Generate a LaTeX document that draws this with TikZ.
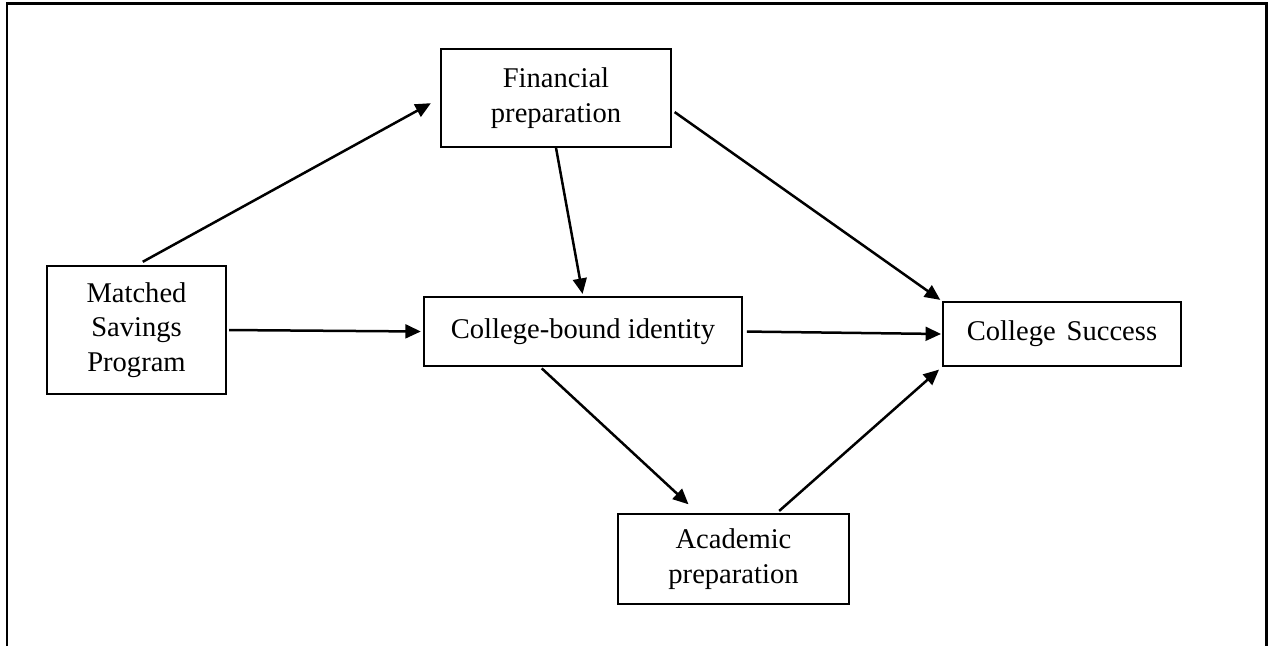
\documentclass[tikz,border=0pt]{standalone}
\usepackage{fontspec}
\setmainfont{Liberation Serif}
\usetikzlibrary{arrows.meta}
\usetikzlibrary{calc}
\usetikzlibrary{positioning}

\tikzset{
  box/.style={draw, line width=0.6pt, inner sep=0pt, align=center, font=\fontsize{12}{14.6}\selectfont},
  link/.style={line width=1.05pt, -{Triangle[length=6.5pt,width=5.8pt]}}
}

\begin{document}
\begin{tikzpicture}[x=0.42pt, y=-0.42pt]
\useasboundingbox (0,0) rectangle (1268,646);

% Frame
\draw[line width=1.2pt] (7,646) -- (7,3.5) -- (1266.5,3.5) -- (1266.5,646);

% Boxes
\node[box, minimum width=75.2pt, minimum height=53.8pt] at (136.5,330) (mat) {Matched\\Savings\\Program};
\node[box, minimum width=96.6pt, minimum height=41.2pt] at (556,98) (fin) {Financial\\preparation};
\node[box, minimum width=133.6pt, minimum height=29pt] at (583,331.5) (cb) {College-bound identity};
\node[box, minimum width=100pt, minimum height=26.9pt] at (1062,334) (succ) {College\hspace{4.6pt}Success};
\node[box, minimum width=97pt, minimum height=37.8pt] at (733.5,559) (acad) {Academic\\preparation};

% Paths
\draw[link, shorten <=3pt, shorten >=4.5pt] (mat.north) -- (fin.west);
\draw[link, shorten <=1pt, shorten >=1pt] (mat.east) -- (cb.west);
\draw[link, shorten >=1pt] (fin.south) -- (cb.north);
\draw[link, shorten <=1.5pt, shorten >=1pt] ($(fin.east)+(0,12)$) -- (succ.north west);
\draw[link, shorten <=1.7pt, shorten >=0.5pt] (cb.east) -- (succ.west);
\draw[link, shorten <=1pt] ($(cb.south)+(-43,0)$) -- ($(acad.north)+(-45,-9)$);
\draw[link, shorten <=1.5pt, shorten >=1.8pt] ($(acad.north)+(43,0)$) -- (succ.south west);

\end{tikzpicture}
\end{document}
